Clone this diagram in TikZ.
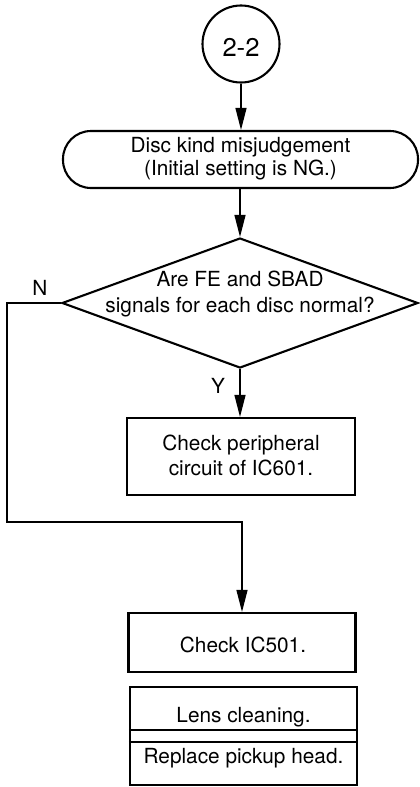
\documentclass[tikz,border=0pt]{standalone}
\usepackage{fontspec}
\setmainfont{TeX Gyre Heros}
\usetikzlibrary{arrows.meta,shapes.geometric}
\begin{document}
\begin{tikzpicture}[x=1pt,y=-1pt,
  box/.style={draw,line width=2.1pt,inner sep=0pt},
  conn/.style={line width=1.2pt},
  arr/.style={conn,-{Triangle[length=22pt,width=11pt]}},
  txt/.style={font=\fontsize{20.8}{25}\selectfont,anchor=base,inner sep=0pt}]
\useasboundingbox (0,0) rectangle (420,787);
% start connector circle
\node[box,circle,minimum size=77pt] (c) at (241,44) {};
\node[txt,font=\fontsize{25.6}{30}\selectfont] (ct) at (241,56) {2-2};
% terminator
\node[box,rounded corners=28pt,minimum width=355pt,minimum height=57pt] (t) at (240.5,159.5) {};
\node[txt] (t1) at (240.5,152) {Disc kind misjudgement};
\node[txt] (t2) at (240.5,175) {(Initial setting is NG.)};
% decision
\node[box,diamond,minimum width=356pt,minimum height=130pt] (d) at (240,303) {};
\node[txt] (d1) at (240,286) {Are FE and SBAD};
\node[txt] (d2) at (240,312) {signals for each disc normal?};
\node[txt] (nl) at (40,295) {N};
\node[txt] (yl) at (218,393) {Y};
% boxes
\node[box,minimum width=228pt,minimum height=77pt] (p) at (241,456.5) {};
\node[txt] (p1) at (241,450) {Check peripheral};
\node[txt] (p2) at (241,475) {circuit of IC601.};
\node[box,minimum width=227pt,minimum height=59pt] (i) at (242,642.5) {};
\node[txt] (i1) at (243,652) {Check IC501.};
\node[box,minimum width=227pt,minimum height=98pt] (lr) at (243.5,736) {};
\draw[line width=2.1pt] (lr.west |- 0,730) -- (lr.east |- 0,730);
\draw[line width=2.1pt] (lr.west |- 0,742) -- (lr.east |- 0,742);
\node[txt] (l1) at (243.5,722) {Lens cleaning.};
\node[txt] (r1) at (243.5,763) {Replace pickup head.};
% connectors
\draw[arr] (c.south) -- (c.south |- t.north);
\draw[arr] (t.south -| d.north) -- (d.north);
\draw[arr] (d.south) -- (d.south |- p.north);
\coordinate (n1) at (7,522);
\draw[arr] (d.west) -| (n1) -| (i.north);
\end{tikzpicture}
\end{document}
